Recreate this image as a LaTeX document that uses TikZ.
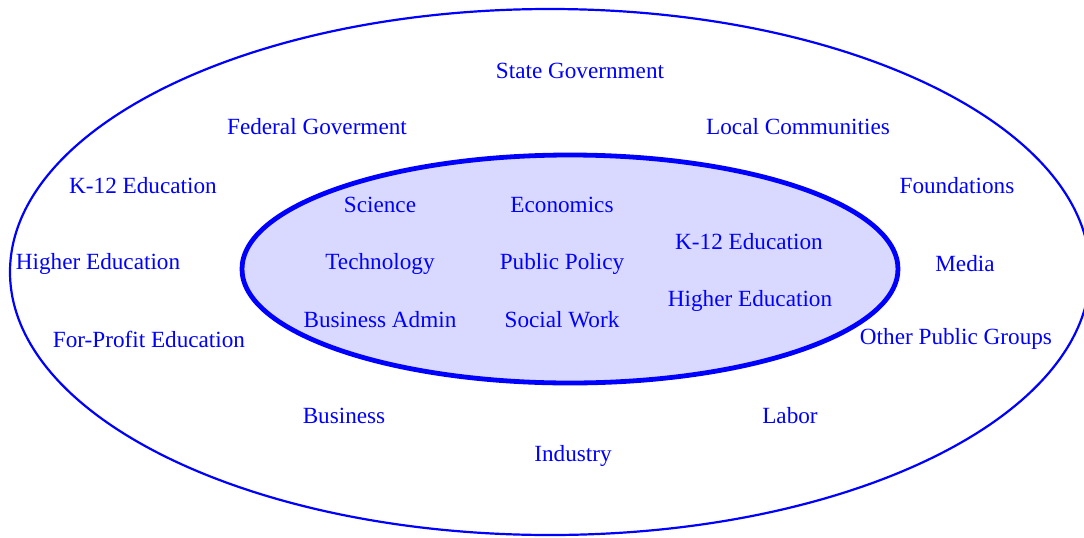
\documentclass[tikz,border=0pt]{standalone}
\usepackage{fontspec}
\setmainfont{Liberation Serif}
\usepackage{tikz}
\usetikzlibrary{shapes.geometric}

\begin{document}
\begin{tikzpicture}[x=0.5pt, y=-0.5pt,
  group/.style = {text=blue, font=\fontsize{11.6}{14}\selectfont, inner sep=0pt},
  ring/.style = {draw=blue, ellipse, inner sep=0pt}]
	\useasboundingbox (0,0) rectangle (1084,537);
	\node[ring, line width=1.1pt, minimum width=540pt, minimum height=263pt] (outer) at (550,272){};
	\node[ring, line width=2.4pt, fill=blue!15, minimum width=328pt, minimum height=114pt] (inner) at (570,269){};
	% outer ring
	\node[group] (state) at (580,71){State Government};
	\node[group] (federal) at (317,127){Federal Goverment};
	\node[group] (local) at (798,127){Local Communities};
	\node[group] (kschool) at (143,186){K-12 Education};
	\node[group] (found) at (957,186){Foundations};
	\node[group] (higher) at (98,264){Higher Education};
	\node[group] (media) at (965,264){Media};
	\node[group] (profit) at (149,339){For-Profit Education};
	\node[group] (public) at (956,339){Other Public Groups};
	\node[group] (business) at (344,416){Business};
	\node[group] (labor) at (790,416){Labor};
	\node[group] (industry) at (573,456){Industry};
	% inner ring
	\node[group] (science) at (380,205){Science};
	\node[group] (econ) at (562,205){Economics};
	\node[group] (tech) at (380,264){Technology};
	\node[group] (policy) at (562,264){Public Policy};
	\node[group] (admin) at (380,320){Business Admin};
	\node[group] (social) at (562,320){Social Work};
	\node[group] (ksch) at (749,242){K-12 Education};
	\node[group] (hied) at (750,301){Higher Education};
\end{tikzpicture}
\end{document}
